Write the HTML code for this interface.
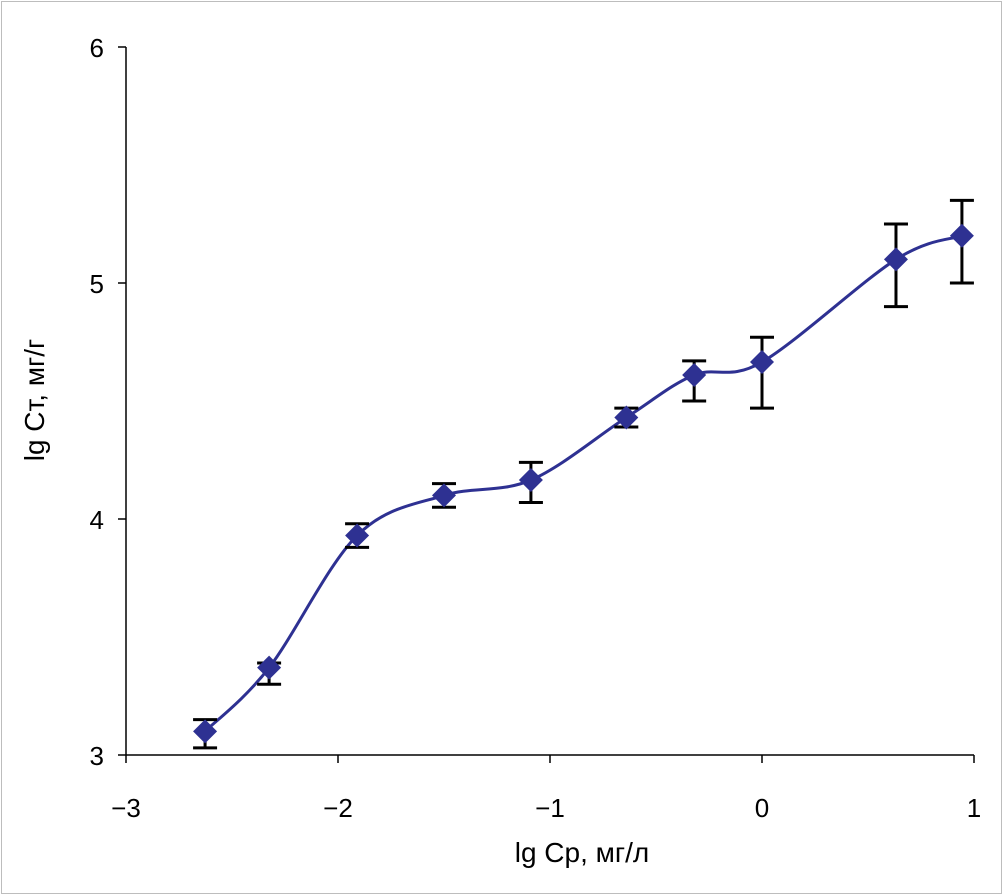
<!DOCTYPE html>
<html><head><meta charset="utf-8"><style>
html,body{margin:0;padding:0;background:#fff}
svg{display:block;font-family:"Liberation Sans",Arial,sans-serif}
</style></head><body>
<svg id="chart" width="1003" height="895" viewBox="0 0 1003 895">
<rect x="1.5" y="1.5" width="1000" height="892" fill="#fff" stroke="#bdbdbd" stroke-width="1"/>
<g id="axes"></g>
<g id="curve"></g>
<g id="errs"></g>
<g id="marks"></g>
<text x="582" y="862" font-size="28" text-anchor="middle" fill="#000">lg Cр, мг/л</text>
<text transform="translate(44,400) rotate(-90)" font-size="28" text-anchor="middle" fill="#000">lg Cт, мг/г</text>
</svg>
<script>
const xs=[-2.627,-2.325,-1.91,-1.50,-1.09,-0.64,-0.32,0.0,0.632,0.943];
const ys=[3.10,3.37,3.93,4.10,4.165,4.43,4.61,4.665,5.10,5.20];
const errHi=[3.15,3.39,3.98,4.15,4.24,4.47,4.67,4.77,5.25,5.35];
const errLo=[3.03,3.30,3.88,4.05,4.07,4.39,4.50,4.47,4.90,5.00];
const xTicks=[-3,-2,-1,0,1];
const yTicks=[3,4,5,6];
const xTickLabels=["\u22123","\u22122","\u22121","0","1"];
const yTickLabels=["3","4","5","6"];
const NS="http://www.w3.org/2000/svg";
const X=v=>126+(v+3)*212;
const Y=v=>755-(v-3)*236;
function mk(t,a,p){const e=document.createElementNS(NS,t);for(const k in a)e.setAttribute(k,a[k]);p.appendChild(e);return e;}
const ax=document.getElementById('axes');
let l=mk('line',{x1:126,y1:47,x2:126,y2:755,stroke:'#000','stroke-width':1.5},ax);


l=mk('line',{x1:126,y1:755,x2:974,y2:755,stroke:'#000','stroke-width':1.5},ax);


xTicks.forEach((v,i)=>{
 const t=mk('line',{x1:X(v),y1:755,x2:X(v),y2:763,stroke:'#000','stroke-width':1.5},ax);
 
 
 const s=mk('text',{x:X(v),y:817,'font-size':26,'text-anchor':'middle'},ax);s.textContent=xTickLabels[i];
 
 
});
yTicks.forEach((v,i)=>{
 const t=mk('line',{x1:118,y1:Y(v),x2:126,y2:Y(v),stroke:'#000','stroke-width':1.5},ax);
 
 
 const s=mk('text',{x:104,y:Y(v)+10,'font-size':26,'text-anchor':'end'},ax);s.textContent=yTickLabels[i];
 
 
});
const P=xs.map((v,i)=>[X(v),Y(ys[i])]);
let d='M'+P[0][0]+','+P[0][1];
for(let i=0;i<P.length-1;i++){
 const p0=P[i-1]||P[i],p1=P[i],p2=P[i+1],p3=P[i+2]||P[i+1];
 const c1=[p1[0]+(p2[0]-p0[0])/6,p1[1]+(p2[1]-p0[1])/6];
 const c2=[p2[0]-(p3[0]-p1[0])/6,p2[1]-(p3[1]-p1[1])/6];
 d+=` C${c1[0]},${c1[1]} ${c2[0]},${c2[1]} ${p2[0]},${p2[1]}`;
}
const c=mk('path',{d:d,fill:'none',stroke:'#2e3192','stroke-width':3},document.getElementById('curve'));


const eg=document.getElementById('errs');
xs.forEach((v,i)=>{
 const x=X(v),a=Y(errHi[i]),b=Y(errLo[i]);
 const g=mk('path',{d:`M${x},${a}V${b}M${x-12},${a}H${x+12}M${x-12},${b}H${x+12}`,stroke:'#000','stroke-width':3,fill:'none'},eg);
 
 
});
const mg=document.getElementById('marks');
xs.forEach((v,i)=>{
 const x=X(v),y=Y(ys[i]),r=12;
 const m=mk('polygon',{points:`${x},${y-r} ${x+r},${y} ${x},${y+r} ${x-r},${y}`,fill:'#2e3192'},mg);
 
 
});
</script>
</body></html>
